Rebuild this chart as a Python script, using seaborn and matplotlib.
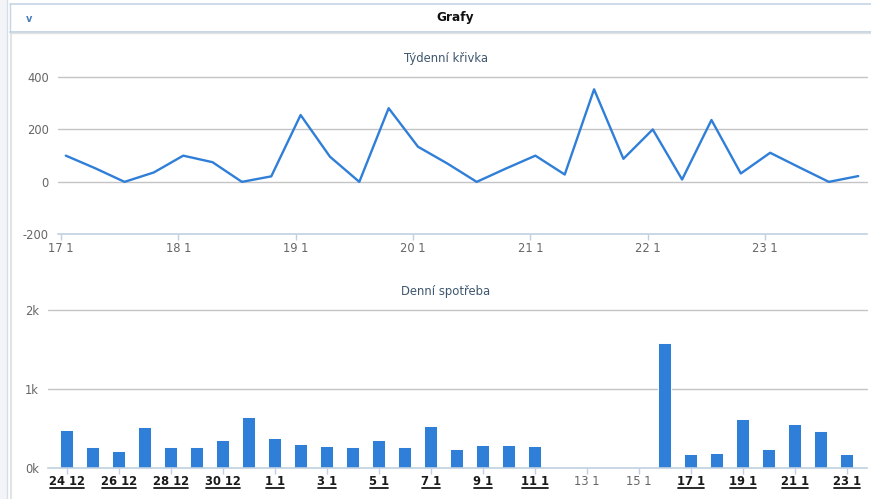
import matplotlib
matplotlib.use("Agg")
import matplotlib.pyplot as plt
from matplotlib.lines import Line2D
from matplotlib.patches import Rectangle
import seaborn as sns
import pandas as pd

# ---------------- data ----------------
header_title = "Grafy"
weekly_title = "Týdenní křivka"
daily_title = "Denní spotřeba"

# weekly curve: samples every 6 hours starting 17.1 01:00 (hours since 17.1 00:00)
weekly_hours = [1, 7, 13, 19, 25, 31, 37, 43, 49, 55, 61, 67, 73, 79,
                85, 91, 97, 103, 109, 115, 121, 127, 133, 139, 145, 151, 157, 163]
weekly_values = [100, 52, 0, 36, 100, 75, 0, 21, 255, 96, 0, 281, 134, 70,
                 0, 51, 100, 28, 353, 88, 200, 9, 236, 32, 111, 55, 0, 22]
weekly_tick_hours = [0, 24, 48, 72, 96, 120, 144]
weekly_tick_labels = ["17 1", "18 1", "19 1", "20 1", "21 1", "22 1", "23 1"]
weekly_yticks = [-200, 0, 200, 400]

# daily consumption 24.12 .. 23.1
daily_labels = ["24 12", "25 12", "26 12", "27 12", "28 12", "29 12", "30 12", "31 12",
                "1 1", "2 1", "3 1", "4 1", "5 1", "6 1", "7 1", "8 1", "9 1", "10 1",
                "11 1", "12 1", "13 1", "14 1", "15 1", "16 1", "17 1", "18 1", "19 1",
                "20 1", "21 1", "22 1", "23 1"]
daily_values = [480, 260, 210, 515, 260, 260, 350, 645, 380, 300, 275, 260, 350, 260,
                530, 240, 290, 290, 275, 0, 0, 0, 0, 1580, 175, 185, 615, 240, 555,
                465, 175]
daily_yticks = [0, 1000, 2000]
daily_ytick_labels = ["0k", "1k", "2k"]

# ---------------- style ----------------
BLUE = "#2F7ED8"
GRID = "#C4C4C4"
AXIS = "#C0D0E0"
TICKTXT = "#666666"
TITLE = "#3E576F"
DARK = "#1A1A1A"

sns.set_theme(style="white")
plt.rcParams["font.family"] = ["DejaVu Sans"]

W, H = 871, 499
fig = plt.figure(figsize=(W / 100, H / 100), dpi=100)
fig.patch.set_facecolor("white")


def fx(px):
    return px / W


def fy(py):
    return 1 - py / H


# ---------- frame / header decorations ----------
fig.add_artist(Rectangle((0, 0), fx(7), 1, transform=fig.transFigure,
                         facecolor="#F2F4F7", edgecolor="none", zorder=0))
fig.add_artist(Line2D([fx(7), fx(7)], [0, 1], transform=fig.transFigure,
                      color="#D5DDE6", lw=1))
fig.add_artist(Line2D([fx(11), fx(11)], [0, fy(33)], transform=fig.transFigure,
                      color="#E3E3E3", lw=1.5))
fig.add_artist(Line2D([fx(10), fx(10)], [fy(32), fy(4)], transform=fig.transFigure,
                      color="#C5D5E5", lw=1))
fig.add_artist(Line2D([fx(10), 1], [fy(4), fy(4)], transform=fig.transFigure,
                      color="#C5D5E5", lw=1.2))
fig.add_artist(Line2D([fx(10), 1], [fy(31.5), fy(31.5)], transform=fig.transFigure,
                      color="#BFD0E0", lw=1.2))
fig.add_artist(Line2D([fx(10), 1], [fy(33), fy(33)], transform=fig.transFigure,
                      color="#E2E2E2", lw=1))
fig.text(fx(29), fy(19), "v", color="#4A7EBB", fontsize=7, fontweight="bold",
         ha="center", va="center")
fig.text(fx(455), fy(18), header_title, color="#111111", fontsize=8.7,
         fontweight="bold", ha="center", va="center")

# ---------- weekly line chart ----------
ax1 = fig.add_axes([fx(58), fy(234.3), fx(867 - 58), (234.3 - 77) / H])
df_w = pd.DataFrame({"hour": weekly_hours, "value": weekly_values})
sns.lineplot(data=df_w, x="hour", y="value", ax=ax1, color=BLUE, lw=1.7)
ax1.set_xlim(-0.6, 164.8)
ax1.set_ylim(-200, 400)
ax1.set_xticks(weekly_tick_hours)
ax1.set_xticklabels(weekly_tick_labels)
ax1.set_yticks(weekly_yticks)
ax1.set_yticklabels([str(v) for v in weekly_yticks])
ax1.set_xlabel("")
ax1.set_ylabel("")
fig.text(fx(445.7), fy(58.3), weekly_title, color=TITLE, fontsize=8.4,
         ha="center", va="center")

# ---------- daily bar chart ----------
ax2 = fig.add_axes([fx(47.7), fy(467.7), fx(867 - 47.7), (467.7 - 310.3) / H])
df_d = pd.DataFrame({"day": daily_labels, "value": daily_values})
sns.barplot(data=df_d, x="day", y="value", ax=ax2, color=BLUE, saturation=1,
            width=0.5, edgecolor="white", linewidth=0.7, zorder=3)
ax2.set_xlim(-0.74, 30.77)
ax2.set_ylim(0, 2000)
ax2.set_yticks(daily_yticks)
ax2.set_yticklabels(daily_ytick_labels)
tick_pos = list(range(0, len(daily_labels), 2))
ax2.set_xticks(tick_pos)
ax2.set_xticklabels([daily_labels[i] for i in tick_pos])
bold_labels = []
for i, lab in zip(tick_pos, ax2.get_xticklabels()):
    if daily_values[i] > 0:
        lab.set_color(DARK)
        lab.set_fontweight("bold")
        bold_labels.append(lab)
    else:
        lab.set_color(TICKTXT)
ax2.set_xlabel("")
ax2.set_ylabel("")
fig.text(fx(445.7), fy(291.7), daily_title, color=TITLE, fontsize=8.4,
         ha="center", va="center")

# ---------- common axis styling ----------
for ax in (ax1, ax2):
    ax.set_facecolor("none")
    for s in ("top", "right", "left"):
        ax.spines[s].set_visible(False)
    ax.spines["bottom"].set_color(AXIS)
    ax.spines["bottom"].set_linewidth(1.2)
    ax.spines["bottom"].set_zorder(4)
    ax.yaxis.grid(True, color=GRID, lw=1.0, zorder=0)
    ax.xaxis.grid(False)
    ax.set_axisbelow(True)
    for gl in ax.get_ygridlines():
        gl.set_clip_on(False)
    ax.tick_params(axis="y", length=0, pad=6.5, labelsize=8.3, labelcolor=TICKTXT)
    ax.tick_params(axis="x", length=4, width=1, color=AXIS, direction="out",
                   pad=1.5, labelsize=8.3, bottom=True)
ax1.tick_params(axis="x", labelcolor=TICKTXT)
ax1.get_ygridlines()[0].set_visible(False)
ax2.get_ygridlines()[0].set_visible(False)

# underline the bold (linked) date labels
fig.canvas.draw()
renderer = fig.canvas.get_renderer()
inv = fig.transFigure.inverted()
for lab in bold_labels:
    bb = lab.get_window_extent(renderer)
    (x0, y0), (x1, _) = inv.transform([[bb.x0 + 1, bb.y0], [bb.x1 - 1, bb.y1]])
    fig.add_artist(Line2D([x0, x1], [y0 + 0.5 / H, y0 + 0.5 / H],
                          transform=fig.transFigure, color=DARK, lw=1.3))

fig.savefig("out.png", dpi=100, facecolor="white")
